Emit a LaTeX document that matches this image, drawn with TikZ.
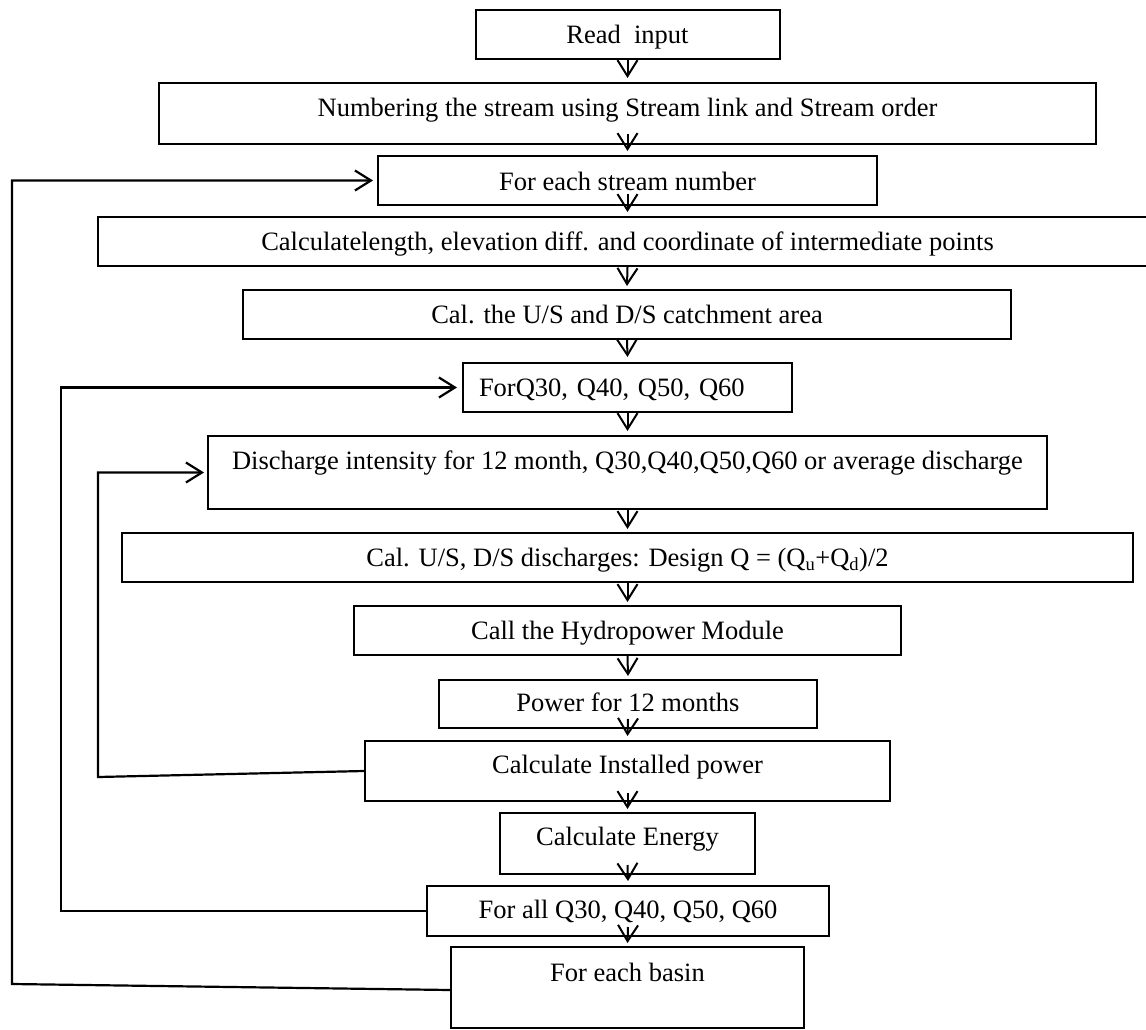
\documentclass[tikz,border=0pt]{standalone}
\usepackage{fontspec}
\setmainfont{Liberation Serif}
\usetikzlibrary{arrows.meta}
\begin{document}
\begin{tikzpicture}[x=1pt,y=-1pt,
  font=\fontsize{26.5}{30}\selectfont,
  box/.style={draw, line width=2pt, rectangle, inner xsep=2pt, inner ysep=0pt},
  arr/.style={line width=2pt, -{Straight Barb[length=16pt,width=20pt]}},
  loopline/.style={line width=2.2pt, -{Straight Barb[length=16pt,width=20pt]}}]

\useasboundingbox (0,0) rectangle (1146,1030);

\node[box, minimum width=304pt, text height=33.5pt, text depth=15.5pt] (read) at (627.5,34.5) {Read~~input};
\node[box, minimum width=937pt, text height=33.5pt, text depth=27.5pt] (num) at (627.5,113.5) {Numbering the stream using Stream link and Stream order};
\node[box, minimum width=499pt, text height=34.5pt, text depth=14.5pt] (fes) at (627.5,180.5) {For each stream number};
\node[box, minimum width=1059pt, text height=33.5pt, text depth=15.5pt] (calc) at (627.5,241.5) {Calculatelength, elevation diff. and coordinate of intermediate points};
\node[box, minimum width=768pt, text height=33.5pt, text depth=15.5pt] (calus) at (627,314.5) {Cal. the U/S and D/S catchment area};
\node[box, inner xsep=16pt, text width=297pt, align=left, text height=33.5pt, text depth=15.5pt] (forq) at (627.5,387.5) {ForQ30, Q40, Q50, Q60};
\node[box, minimum width=839pt, text height=33.5pt, text depth=39.5pt] (dis) at (627.5,472.5) {Discharge intensity for 12 month, Q30,Q40,Q50,Q60 or average discharge};
\node[box, minimum width=1011pt, text height=33.5pt, text depth=15.5pt] (calud) at (627.5,557.5) {Cal. U/S, D/S discharges: Design Q = (Q\textsubscript{u}+Q\textsubscript{d})/2};
\node[box, minimum width=547pt, text height=33.5pt, text depth=15.5pt] (hydro) at (627.5,630.5) {Call the Hydropower Module};
\node[box, minimum width=378pt, text height=31.5pt, text depth=16.5pt] (power) at (628,704) {Power for 12 months};
\node[box, minimum width=525pt, text height=32.5pt, text depth=27.5pt] (inst) at (627.5,771) {Calculate Installed power};
\node[box, minimum width=255pt, text height=32.5pt, text depth=28.5pt] (energy) at (627.5,843.5) {Calculate Energy};
\node[box, minimum width=402pt, text height=32.5pt, text depth=17.5pt] (forall) at (628,911) {For all Q30, Q40, Q50, Q60};
\node[box, minimum width=353pt, text height=34.5pt, text depth=46.5pt] (basin) at (627.5,987.5) {For each basin};

% main flow arrows
\draw[arr] (read.south) -- ([yshift=4pt]num.north);
\draw[arr] ([yshift=11pt]num.south) -- ([yshift=4pt]fes.north);
\draw[arr] ([yshift=12pt]fes.south) -- ([yshift=4pt]calc.north);
\draw[arr] (calc.south) -- ([yshift=3pt]calus.north);
\draw[arr] (calus.south) -- ([yshift=5pt]forq.north);
\draw[arr] (forq.south) -- ([yshift=4pt]dis.north);
\draw[arr] (dis.south) -- ([yshift=3pt]calud.north);
\draw[arr] (calud.south) -- ([yshift=3pt]hydro.north);
\draw[arr] (hydro.south) -- ([yshift=3pt]power.north);
\draw[arr] ([yshift=10pt]power.south) -- ([yshift=4pt]inst.north);
\draw[arr] ([yshift=9pt]inst.south) -- ([yshift=3pt]energy.north);
\draw[arr] ([yshift=10pt]energy.south) -- ([yshift=4pt]forall.north);
\draw[arr] ([yshift=10pt]forall.south) -- ([yshift=3pt]basin.north);

% loop connectors
\coordinate (l1b) at (12,984);
\coordinate (l1t) at (12,180.5);
\coordinate (l2b) at (61,911);
\coordinate (l2t) at (61,387.5);
\coordinate (l3b) at (98,777);
\coordinate (l3t) at (98,472.5);

\draw[loopline] ([yshift=-2.5pt]basin.west) -- (l1b) -- (l1t) -- ([xshift=-4pt]fes.west);
\draw[loopline] (forall.west) -- (l2b) -- (l2t) -- ([xshift=-5pt]forq.west);
\draw[loopline] (inst.west) -- (l3b) -- (l3t) -- ([xshift=-3pt]dis.west);

\end{tikzpicture}
\end{document}
